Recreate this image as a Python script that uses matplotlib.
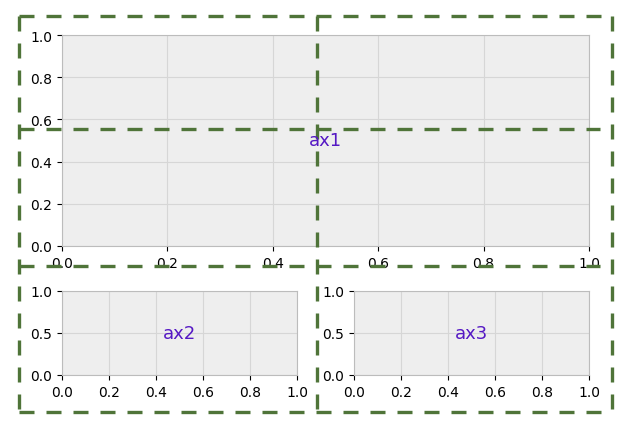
import matplotlib
matplotlib.use("Agg")
import matplotlib.pyplot as plt
from matplotlib.lines import Line2D

plt.style.use("bmh")
plt.rcParams['font.family'] = ['DejaVu Sans']

axis_names = ["ax1", "ax2", "ax3"]
ticks_main = [0.0, 0.2, 0.4, 0.6, 0.8, 1.0]
ticks_small_y = [0.0, 0.5, 1.0]

fig = plt.figure(figsize=(6.36, 4.27), dpi=100, facecolor="white")

W, H = 636.0, 427.0
def fx(px):
    return px / W
def fy(py):
    return 1 - py / H

# axes rectangles [left, bottom, width, height]
ax1 = fig.add_axes([fx(62), fy(247), fx(589) - fx(62), fy(36) - fy(247)])
ax2 = fig.add_axes([fx(62), fy(376), fx(297) - fx(62), fy(292) - fy(376)])
ax3 = fig.add_axes([fx(354), fy(376), fx(589) - fx(354), fy(292) - fy(376)])

for ax in (ax1, ax2, ax3):
    ax.set_xlim(0, 1)
    ax.set_ylim(0, 1)
    ax.set_facecolor("#eeeeee")
    ax.grid(True, color="#d6d6d6", linewidth=0.8, linestyle="-")
    ax.set_axisbelow(True)
    for sp in ax.spines.values():
        sp.set_color("#bcbcbc")
    ax.tick_params(colors="black", labelsize=10, direction="out", length=3.5,
                   color="black", width=0.8)
    ax.set_xticks(ticks_main)

ax1.set_yticks(ticks_main)
ax2.set_yticks(ticks_small_y)
ax3.set_yticks(ticks_small_y)

# dashed guide boxes (figure pixel geometry)
green = "#4f7439"
segs = [
    ((19, 17), (612, 17)),
    ((19, 17), (19, 413)),
    ((612, 17), (612, 413)),
    ((19, 413), (612, 413)),
    ((317, 17), (317, 413)),
    ((19, 130), (600, 130)),
    ((19, 267), (600, 267)),
]
for (x0, y0), (x1, y1) in segs:
    fig.add_artist(Line2D([fx(x0), fx(x1)], [fy(y0), fy(y1)],
                          transform=fig.transFigure, color=green,
                          linewidth=2.4, linestyle=(0, (4.5, 3.6)),
                          zorder=3, solid_capstyle="butt",
                          dash_capstyle="butt"))

for ax, name in zip((ax1, ax2, ax3), axis_names):
    fig.text(0.5, 0.5, name, transform=ax.transAxes, ha="center", va="center",
             fontsize=13, color="#5518c4", zorder=5)

fig.savefig("out.png", dpi=100, facecolor="white")
